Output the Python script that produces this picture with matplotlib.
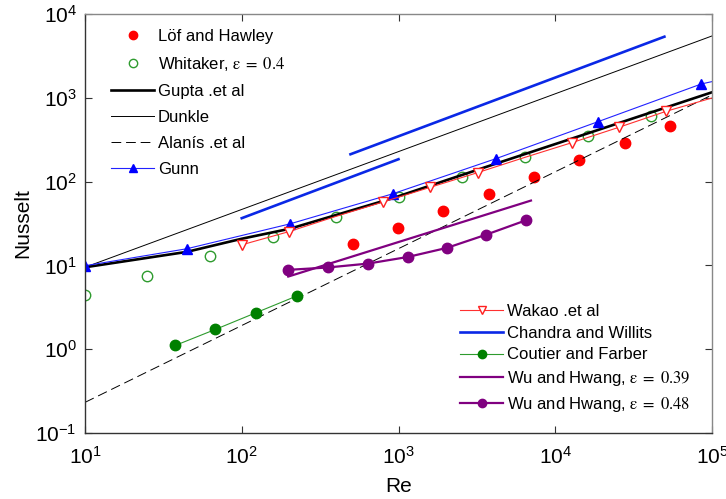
import matplotlib
matplotlib.use("Agg")
import matplotlib.pyplot as plt

plt.rcParams['font.family'] = ['Liberation Sans', 'DejaVu Sans']
plt.rcParams['mathtext.fontset'] = 'stix'
plt.rcParams['axes.unicode_minus'] = False

# Experimental data and correlations: Nusselt number vs Reynolds number
lof_re = [511, 997, 1932, 3760, 7340, 14200, 27700, 53900]
lof_nu = [17.9, 28.3, 45.1, 71.9, 114.7, 181.5, 290, 462]

whitaker_re = [10, 25, 63, 158, 399, 1007, 2540, 6440, 16200, 40800]
whitaker_nu = [4.45, 7.5, 12.8, 21.9, 37.7, 65.2, 113.8, 197, 351, 612]

gupta_re = [10, 44.6, 100, 203, 918, 4190, 18800, 100000]
gupta_nu = [9.5, 14.5, 20.8, 27.4, 63.4, 164, 414, 1164]

dunkle_re = [10, 100000]
dunkle_nu = [9.5, 5470]

alanis_re = [10, 100000]
alanis_nu = [0.232, 1082]

gunn_re = [10, 44.6, 203, 918, 4190, 18800, 85500, 100000]
gunn_nu = [9.9, 15.8, 31.3, 71.5, 188, 520, 1463, 1560]

wakao_re = [100, 200, 400, 800, 1600, 3200, 6400, 12800, 25600, 51200, 100000]
wakao_nu = [17.6, 25.3, 38.5, 57.3, 85.7, 128, 194.6, 292, 446, 692, 995]

chandra1_re = [100, 1000]
chandra1_nu = [36.6, 185]
chandra2_re = [494, 49700]
chandra2_nu = [212, 5360]

coutier_re = [37.7, 67.8, 123, 224]
coutier_nu = [1.11, 1.72, 2.72, 4.31]

wu39_re = [198, 7000]
wu39_nu = [7.36, 59.4]

wu48_re = [198, 353, 636, 1145, 2040, 3610, 6550]
wu48_nu = [8.85, 9.44, 10.5, 12.6, 16.2, 23.2, 34.7]

fig = plt.figure(figsize=(7.26, 4.99), dpi=100)
ax = fig.add_axes([85 / 726, 1 - 433 / 499, 627 / 726, 419 / 499])

purple = '#800080'
eps = '$\\mathrm{\\varepsilon}\\;=\\;%s$'

h_lof, = ax.plot(lof_re, lof_nu, 'o', color='#FF0000', ms=7.5, mec='#FF0000',
                 linestyle='none', label='Löf and Hawley')
h_whit, = ax.plot(whitaker_re, whitaker_nu, 'o', mfc='none', mec='#2E9B2E', mew=1.0,
                  ms=7.5, linestyle='none', label='Whitaker, ' + eps % '0.4')
h_gupta, = ax.plot(gupta_re, gupta_nu, '-', color='black', lw=1.9, label='Gupta .et al')
h_dunkle, = ax.plot(dunkle_re, dunkle_nu, '-', color='black', lw=0.7, label='Dunkle')
h_alanis, = ax.plot(alanis_re, alanis_nu, color='black', lw=0.7, dashes=(10, 5),
                    label='Alanís .et al')
h_gunn, = ax.plot(gunn_re, gunn_nu, '-', color='#2222FF', lw=0.8, marker='^',
                  mfc='#0000FF', mec='#0000FF', ms=6.5, markevery=list(range(7)),
                  label='Gunn')

h_wakao, = ax.plot(wakao_re, wakao_nu, '-', color='#FF3030', lw=0.8, marker='v',
                   mfc='white', mec='#FF2020', mew=1.0, ms=7.5,
                   markevery=[0, 1, 3, 4, 5, 7, 8, 9], label='Wakao .et al')
h_chandra, = ax.plot(chandra1_re, chandra1_nu, '-', color='#0A28E6', lw=1.9,
                     label='Chandra and Willits')
ax.plot(chandra2_re, chandra2_nu, '-', color='#0A28E6', lw=1.9)
h_cout, = ax.plot(coutier_re, coutier_nu, '-', color='#2E9B2E', lw=0.8, marker='o',
                  mfc='#008000', mec='#008000', ms=7.5, label='Coutier and Farber')
h_wu39, = ax.plot(wu39_re, wu39_nu, '-', color=purple, lw=1.6,
                  label='Wu and Hwang, ' + eps % '0.39')
h_wu48, = ax.plot(wu48_re, wu48_nu, '-', color=purple, lw=1.6, marker='o',
                  mfc=purple, mec=purple, ms=7.5,
                  label='Wu and Hwang, ' + eps % '0.48')

ax.set_xscale('log')
ax.set_yscale('log')
ax.set_xlim(10, 1e5)
ax.set_ylim(0.1, 1e4)
ax.minorticks_off()
ax.tick_params(which='both', direction='in', top=True, right=True,
               length=5, width=0.8, labelsize=15, pad=9, color='#333333')
ax.tick_params(axis='y', pad=6)
for side in ('left', 'bottom'):
    ax.spines[side].set_color('#333333')
for side in ('top', 'right'):
    ax.spines[side].set_color('#888888')
for sp in ax.spines.values():
    sp.set_linewidth(1.0)

ax.set_xlabel('Re', fontsize=15, labelpad=7)
ax.set_ylabel('Nusselt', fontsize=15, labelpad=2)

leg1 = ax.legend(handles=[h_lof, h_whit, h_gupta, h_dunkle, h_alanis, h_gunn],
                 loc='upper left', bbox_to_anchor=(111 / 726, 1 - 29 / 499),
                 bbox_transform=fig.transFigure, frameon=False, fontsize=12,
                 borderpad=0, borderaxespad=0, handlelength=2.6,
                 handletextpad=0.2, labelspacing=0.66, markerscale=0.8)
ax.add_artist(leg1)
ax.legend(handles=[h_wakao, h_chandra, h_cout, h_wu39, h_wu48],
          loc='upper left', bbox_to_anchor=(460 / 726, 1 - 304 / 499),
          bbox_transform=fig.transFigure, frameon=False, fontsize=12,
          borderpad=0, borderaxespad=0, handlelength=2.6,
          handletextpad=0.2, labelspacing=0.4, markerscale=0.8)

fig.savefig('out.png', dpi=100)
